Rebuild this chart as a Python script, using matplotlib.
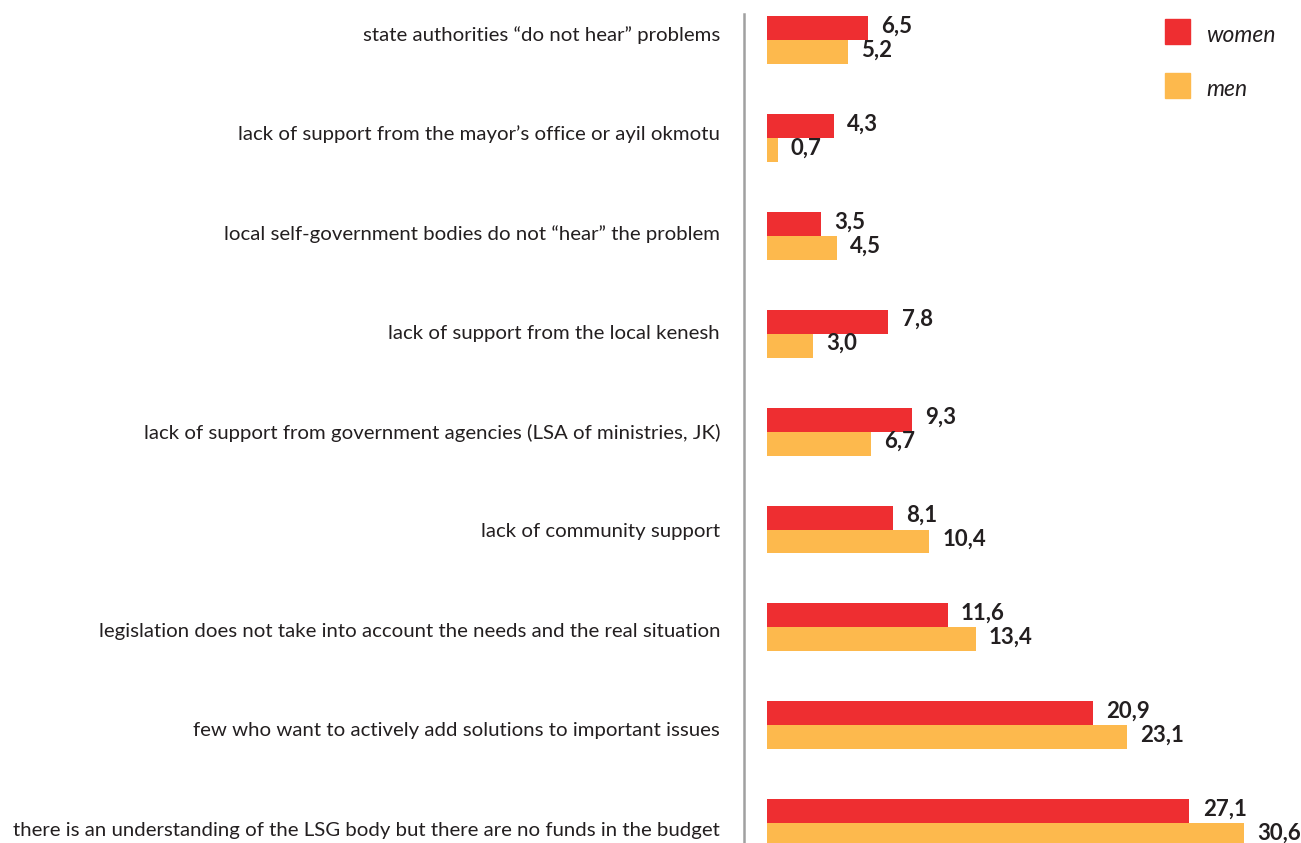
import numpy as np
import matplotlib.pyplot as plt
from matplotlib.patches import Rectangle

categories = [
    'state authorities \u201cdo not hear\u201d problems',
    'lack of support from the mayor\u2019s office or ayil okmotu',
    'local self-government bodies do not \u201chear\u201d the problem',
    'lack of support from the local kenesh',
    'lack of support from government agencies (LSA of ministries, JK)',
    'lack of community support',
    'legislation does not take into account the needs and the real situation',
    'few who want to actively add solutions to important issues',
    'there is an understanding of the LSG body but there are no funds in the budget',
]
women = [6.5, 4.3, 3.5, 7.8, 9.3, 8.1, 11.6, 20.9, 27.1]
men = [5.2, 0.7, 4.5, 3.0, 6.7, 10.4, 13.4, 23.1, 30.6]
series_names = ['women', 'men']

red = '#EE2E31'
yellow = '#FDB94D'
txt = '#231F20'

plt.rcParams['font.family'] = ['Lato', 'DejaVu Sans']

fig = plt.figure(figsize=(13.01, 8.43), dpi=100)
W, H = 1301, 843
ax = fig.add_axes([743.7 / W, 0, 1 - 743.7 / W, 1])

y = np.arange(len(categories))
h = 0.245
ax.barh(y - h / 2, women, height=h, color=red)
ax.barh(y + h / 2, men, height=h, color=yellow)

for yi, w, m in zip(y, women, men):
    ax.annotate(f'{w:.1f}'.replace('.', ','), (w, yi - h / 2), xytext=(9.5, 1.5),
                textcoords='offset points', va='center', ha='left',
                fontsize=16, fontweight='bold', color=txt)
    ax.annotate(f'{m:.1f}'.replace('.', ','), (m, yi + h / 2), xytext=(9.5, 1.5),
                textcoords='offset points', va='center', ha='left',
                fontsize=16, fontweight='bold', color=txt)

# pixel layout: group centres start at 40px, spaced ~97.9px
step = 97.9
ax.set_ylim((H - 40) / step, -40 / step)
ax.set_xlim(-23 / 15.6, (W - 766.7) / 15.6)

# category text lines are spaced a little wider than the bar groups
label_pos = (33.5 + 99.4 * y - 40) / step
ax.set_yticks(label_pos)
ax.set_yticklabels(categories, fontsize=14.7, color=txt)
ax.tick_params(axis='y', length=0, pad=17)
ax.set_xticks([])
for s in ['top', 'right', 'bottom']:
    ax.spines[s].set_visible(False)
ax.spines['left'].set_color('#A0A0A0')
ax.spines['left'].set_linewidth(1.8)
ax.spines['left'].set_bounds((H - 40) / step, (14 - 40) / step)

# legend squares
for i, (name, col) in enumerate(zip(series_names, [red, yellow])):
    top = 19 + i * 54
    fig.patches.append(Rectangle((1165 / W, 1 - (top + 25) / H), 25 / W, 25 / H,
                                 transform=fig.transFigure, color=col))
    fig.text(1206 / W, 1 - (top + 16) / H, name, fontsize=16.5, style='italic',
             color=txt, va='center', ha='left')

fig.savefig('out.png', dpi=100)
